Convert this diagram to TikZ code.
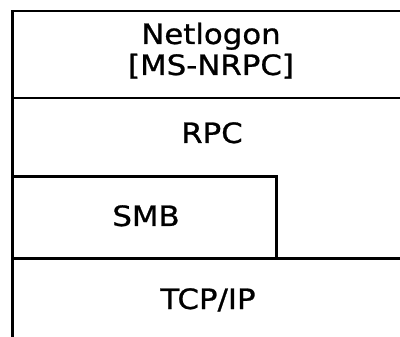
\documentclass[tikz,border=0pt]{standalone}
\usepackage{fontspec}
\setmainfont{DejaVu Sans}
\newfontfamily\lblfont[FakeStretch=1.1,FakeBold=0.9]{DejaVu Sans}
\begin{document}
\begin{tikzpicture}[x=1pt,y=-1pt,
  layerline/.style={line width=2.2pt,black},
  lbl/.style={font=\lblfont\fontsize{28}{31}\selectfont, inner sep=0pt, anchor=base}]
\useasboundingbox (0,0) rectangle (400,337);
\coordinate (tl) at (12.5,11);
\coordinate (tr) at (400,11);
\coordinate (bl) at (12.5,337);
\coordinate (s1l) at (12.5,98);
\coordinate (s1r) at (400,98);
\coordinate (smbtl) at (12.5,176.5);
\coordinate (smbtr) at (276.5,176.5);
\coordinate (smbbr) at (276.5,258.5);
\coordinate (s2l) at (12.5,258.5);
\coordinate (s2r) at (400,258.5);
\draw[layerline] (tr) -- (tl) -- (bl);
\draw[layerline] (s1l) -- (s1r);
\draw[layerline] (smbtl) -- (smbtr) -- (smbbr);
\draw[layerline] (s2l) -- (s2r);
\node[lbl] (netlogon) at (211,44) {Netlogon};
\node[lbl] (msnrpc) at (211,75) {[MS-NRPC]};
\node[lbl] (rpc) at (212,143) {RPC};
\node[lbl] (smb) at (146,226) {SMB};
\node[lbl] (tcpip) at (208,309) {TCP/IP};
\end{tikzpicture}
\end{document}
